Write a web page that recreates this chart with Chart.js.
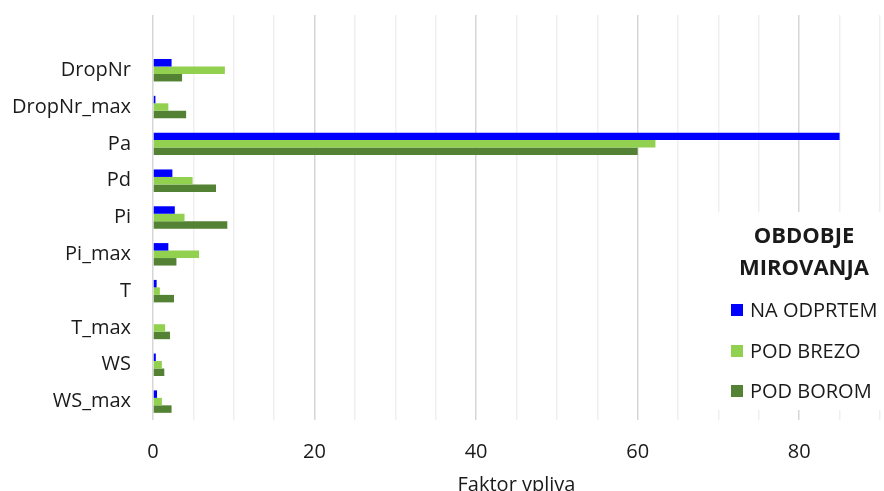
<!DOCTYPE html>
<html>
<head>
<meta charset="utf-8">
<script src="https://cdn.jsdelivr.net/npm/chart.js@4"></script>
<style>
  html, body { margin: 0; padding: 0; background: #ffffff; }
  #wrap { width: 884px; height: 491px; }
</style>
</head>
<body>
<div id="wrap"><canvas id="c" width="884" height="491"></canvas></div>
<script>
// Factor categories (top row left blank, as in the source sheet)
const categories = ['', 'DropNr', 'DropNr_max', 'Pa', 'Pd', 'Pi', 'Pi_max', 'T', 'T_max', 'WS', 'WS_max'];

// Influence factor per site
const naOdprtem = [null, 2.3, 0.3, 85.0, 2.4, 2.7, 1.9, 0.45, 0, 0.35, 0.5];
const podBrezo  = [null, 8.9, 1.9, 62.2, 4.9, 3.9, 5.7, 0.85, 1.5, 1.1, 1.1];
const podBorom  = [null, 3.6, 4.1, 60.0, 7.8, 9.2, 2.9, 2.6, 2.1, 1.4, 2.3];

const seriesNames = ['NA ODPRTEM', 'POD BREZO', 'POD BOROM'];
const seriesColors = ['#0000ff', '#92d050', '#548235'];

const xTicks = [0, 20, 40, 60, 80];
const legendTitle = ['OBDOBJE', 'MIROVANJA'];
const axisTitle = 'Faktor vpliva';

const FONT = "'Open Sans', 'DejaVu Sans', sans-serif";
const TEXT = '#1a1a1a';

// Legend box drawn over the plot, with a white backing
const legendPlugin = {
  id: 'sideLegend',
  afterDraw(chart) {
    const ctx = chart.ctx;
    ctx.save();
    ctx.fillStyle = '#ffffff';
    ctx.fillRect(700, 212, 184, 198);
    ctx.fillStyle = TEXT;
    ctx.textAlign = 'center';
    ctx.textBaseline = 'middle';
    ctx.font = 'bold 22px ' + FONT;
    ctx.fillText(legendTitle[0], 804, 237);
    ctx.fillText(legendTitle[1], 804, 269);
    ctx.textAlign = 'left';
    ctx.font = '20px ' + FONT;
    const rows = [310, 351, 391];
    seriesNames.forEach((name, i) => {
      ctx.fillStyle = seriesColors[i];
      ctx.fillRect(731, rows[i] - 6, 12, 12);
      ctx.fillStyle = TEXT;
      ctx.fillText(name, 750, rows[i] + 1);
    });
    ctx.restore();
  }
};

new Chart(document.getElementById('c'), {
  type: 'bar',
  data: {
    labels: categories,
    datasets: [
      { label: seriesNames[0], data: naOdprtem, backgroundColor: seriesColors[0] },
      { label: seriesNames[1], data: podBrezo, backgroundColor: seriesColors[1] },
      { label: seriesNames[2], data: podBorom, backgroundColor: seriesColors[2] }
    ]
  },
  options: {
    indexAxis: 'y',
    responsive: false,
    animation: false,
    devicePixelRatio: 1,
    layout: { padding: { top: 15, right: 4, left: 0, bottom: 0 } },
    datasets: { bar: { categoryPercentage: 0.61, barPercentage: 1.0 } },
    plugins: {
      legend: { display: false },
      tooltip: { enabled: false }
    },
    scales: {
      x: {
        type: 'linear',
        min: 0,
        max: 90,
        afterFit(s) {
          s.height = 71;
          s.paddingLeft = 0;
          s.paddingRight = 0;
        },
        border: { display: false },
        grid: {
          drawTicks: false,
          lineWidth: 1.5,
          color(ctx) {
            const v = ctx.tick ? ctx.tick.value : 0;
            return v % 20 === 0 ? '#d6d6d6' : '#efefef';
          }
        },
        ticks: {
          stepSize: 5,
          padding: 20,
          color: TEXT,
          font: { family: FONT, size: 20 },
          maxRotation: 0,
          autoSkip: false,
          callback(v) { return xTicks.includes(v) ? String(v) : ''; }
        },
        title: {
          display: true,
          text: axisTitle,
          color: TEXT,
          font: { family: FONT, size: 20 },
          padding: { top: 0, bottom: -6 }
        }
      },
      y: {
        afterFit(s) {
          s.width = 153;
          s.paddingTop = 0;
          s.paddingBottom = 0;
        },
        border: { display: false },
        grid: { display: false, drawTicks: false },
        ticks: {
          padding: 22,
          color: TEXT,
          font: { family: FONT, size: 20 },
          autoSkip: false
        }
      }
    }
  },
  plugins: [legendPlugin]
});
</script>
</body>
</html>
